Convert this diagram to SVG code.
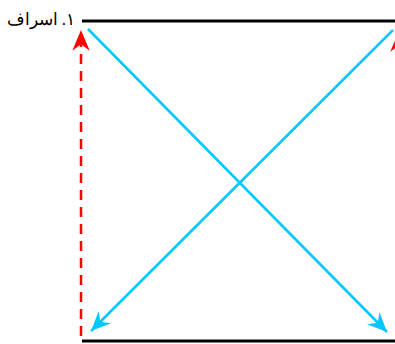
<svg xmlns="http://www.w3.org/2000/svg" width="395" height="344" viewBox="0 0 395 344">
<style>
.base{stroke:#000;stroke-width:3;fill:none}
.blue{stroke:#00C8FF;stroke-width:2.5;fill:none}
.red{stroke:#FF0000;stroke-width:2.5;fill:none;stroke-dasharray:10 7}
.lbl{font-family:"Liberation Serif","DejaVu Serif",serif;font-size:17px;fill:#000}
</style>
<defs>
<marker id="ab" markerUnits="userSpaceOnUse" markerWidth="24" markerHeight="20" viewBox="-20 -9 22 18" refX="0" refY="0" orient="auto">
<path d="M0,0 L-18,-8 L-12,0 L-18,8 Z" fill="#00C8FF"/>
</marker>
<marker id="ar" markerUnits="userSpaceOnUse" markerWidth="24" markerHeight="20" viewBox="-20 -9 22 18" refX="0" refY="0" orient="auto">
<path d="M0,0 L-19,-8 L-13,0 L-19,8 Z" fill="#FF0000"/>
</marker>
</defs>
<g id="top-line"><line class="base" x1="82" y1="21" x2="395" y2="21"/></g>
<g id="bottom-line"><line class="base" x1="82" y1="341" x2="395" y2="341"/></g>
<g id="label"><text class="lbl" x="75" y="25" direction="rtl" text-anchor="start">١. اسراف</text></g>
<g id="connectors">
<line class="red" x1="81" y1="336" x2="81" y2="30" marker-end="url(#ar)"/>
<line class="red" x1="399" y1="336" x2="399" y2="31" marker-end="url(#ar)"/>
<line class="blue" x1="88" y1="29" x2="387" y2="332" marker-end="url(#ab)"/>
<line class="blue" x1="393" y1="30" x2="91" y2="331" marker-end="url(#ab)"/>
</g>
</svg>
